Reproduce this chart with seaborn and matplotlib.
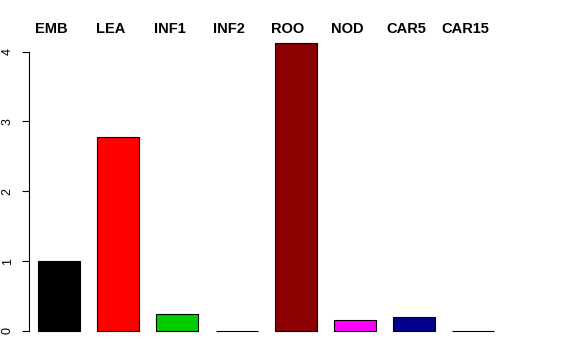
import matplotlib
matplotlib.use("Agg")
import matplotlib.pyplot as plt
import matplotlib.transforms as mtransforms
import seaborn as sns
import pandas as pd

categories = ["EMB", "LEA", "INF1", "INF2", "ROO", "NOD", "CAR5", "CAR15"]
values = [1.0, 2.78, 0.24, 0.0, 4.12, 0.16, 0.20, 0.0]
colors = ["#000000", "#FF0000", "#00CD00", "#0000FF", "#8B0000", "#FF00FF", "#00008B", "#BEBEBE"]
yticks = [0, 1, 2, 3, 4]

df = pd.DataFrame({"cat": categories, "val": values})

sns.set_style("white")
plt.rcParams["font.family"] = ["Liberation Sans", "DejaVu Sans"]
plt.rcParams["text.color"] = "black"
plt.rcParams["xtick.color"] = "black"
plt.rcParams["ytick.color"] = "black"

W, H = 576, 360
fig = plt.figure(figsize=(W / 100, H / 100), dpi=100)
# axes from pixel x 29..560, y 40..340
ax = fig.add_axes([29 / W, 1 - 340 / H, (560 - 29) / W, 300 / H])

sns.barplot(data=df, x="cat", y="val", hue="cat", palette=colors, legend=False,
            width=0.71, edgecolor="black", linewidth=0.8, ax=ax, saturation=1)

ax.set_xlim(-0.507, 8.463)
ax.set_ylim(-0.129, 4.165)
ax.set_xlabel("")
ax.set_ylabel("")

for s in ["top", "right", "bottom"]:
    ax.spines[s].set_visible(False)
ax.spines["left"].set_bounds(0, 4)
ax.spines["left"].set_color("black")
ax.spines["left"].set_linewidth(0.8)

ax.set_yticks(yticks)
ax.set_yticklabels([str(t) for t in yticks], rotation=90, va="center", fontsize=9, color="black")
ax.tick_params(axis="y", left=True, length=5, width=0.8, color="black", pad=6)

ax.set_xticks([])
shift = mtransforms.offset_copy(
    mtransforms.blended_transform_factory(ax.transData, fig.transFigure),
    fig=fig, x=-8, y=0, units="dots")
for i, c in enumerate(categories):
    ax.text(i, 1 - 29 / H, c, transform=shift, ha="center", va="center",
            fontsize=10.5, fontweight="bold", color="black")

fig.savefig("out.png", dpi=100, facecolor="white")
